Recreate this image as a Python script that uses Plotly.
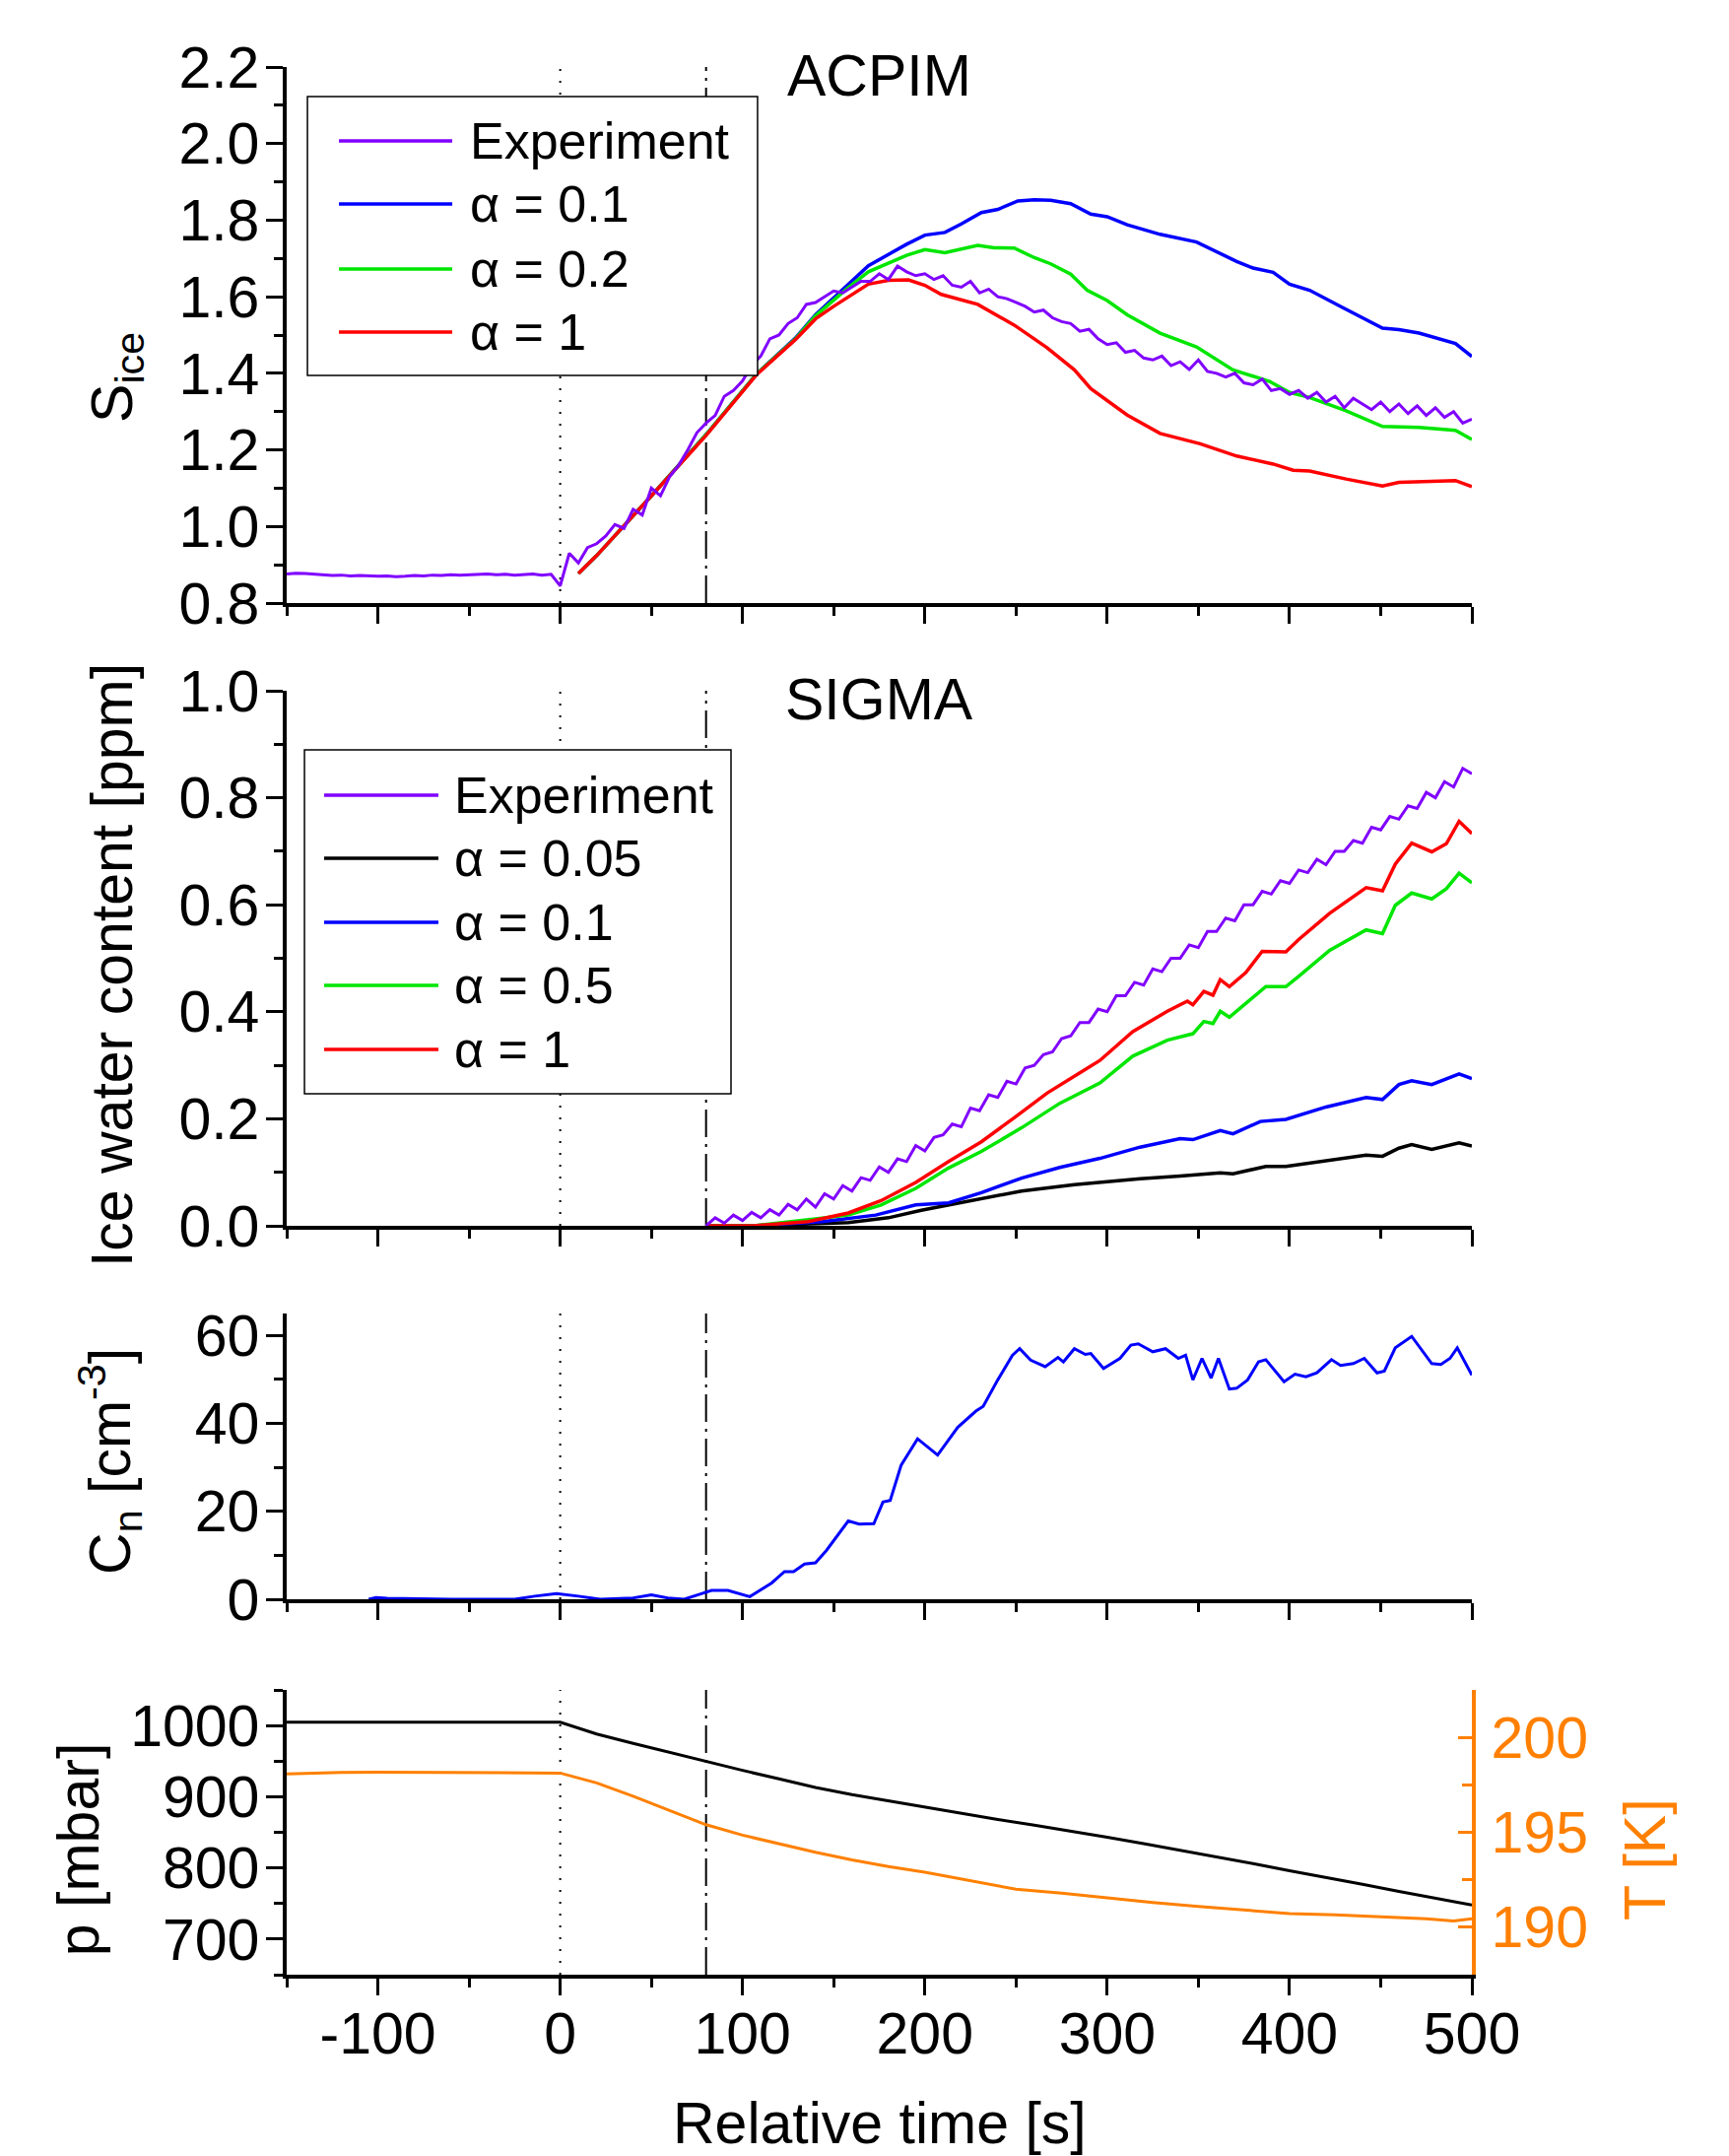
import plotly.graph_objects as go

FONT = "Liberation Sans, Arial, sans-serif"
PURPLE, BLUE, GREEN, RED, BLACK, ORANGE = "#8000FF", "#0000FF", "#00E600", "#FF0000", "#000000", "#FF8000"

# ---------------- Panel 1 : ACPIM, S_ice ----------------
exp1_t = list(range(-150, 505, 5))
exp1 = [0.876, 0.878, 0.877, 0.875, 0.874, 0.872, 0.873, 0.871, 0.872, 0.871,
        0.870, 0.871, 0.869, 0.870, 0.872, 0.871, 0.873, 0.872, 0.874, 0.873,
        0.874, 0.875, 0.876, 0.874, 0.875, 0.873, 0.874, 0.876, 0.873, 0.875, 0.845,
        0.93, 0.905, 0.945, 0.955, 0.975, 1.005, 0.995, 1.045, 1.03, 1.10,
        1.08, 1.13, 1.16, 1.20, 1.245, 1.27, 1.29, 1.34, 1.355, 1.38,
        1.42, 1.445, 1.49, 1.50, 1.53, 1.545, 1.58, 1.585, 1.60, 1.615,
        1.61, 1.625, 1.64, 1.64, 1.66, 1.645, 1.68, 1.665, 1.655, 1.66,
        1.645, 1.655, 1.63, 1.625, 1.64, 1.61, 1.62, 1.60, 1.595, 1.585,
        1.575, 1.56, 1.565, 1.545, 1.535, 1.53, 1.51, 1.515, 1.49, 1.475,
        1.48, 1.455, 1.46, 1.44, 1.435, 1.445, 1.42, 1.43, 1.41, 1.435,
        1.405, 1.40, 1.39, 1.40, 1.375, 1.37, 1.385, 1.355, 1.36, 1.345,
        1.355, 1.335, 1.35, 1.325, 1.34, 1.31, 1.335, 1.32, 1.305, 1.325,
        1.30, 1.32, 1.295, 1.315, 1.29, 1.31, 1.285, 1.30, 1.27, 1.28]

a01_t = [10, 20, 50, 80, 108, 129, 140, 157, 169, 190, 200, 211, 220, 231, 240, 251, 260, 269,
         280, 291, 300, 311, 329, 349, 371, 380, 391, 400, 411, 429, 440, 451, 460, 471, 491, 500]
a01 = [0.877, 0.924, 1.08, 1.24, 1.40, 1.492, 1.553, 1.627, 1.681, 1.737, 1.761, 1.768, 1.790,
       1.820, 1.828, 1.850, 1.853, 1.852, 1.843, 1.816, 1.809, 1.788, 1.763, 1.743, 1.692, 1.675,
       1.664, 1.633, 1.617, 1.572, 1.545, 1.518, 1.514, 1.505, 1.478, 1.444]

a02_t = [10, 20, 50, 80, 108, 129, 140, 157, 169, 190, 200, 211, 229, 238, 249, 260, 269, 280,
         289, 300, 311, 329, 349, 369, 389, 400, 411, 431, 451, 460, 471, 491, 500]
a02 = [0.877, 0.924, 1.08, 1.24, 1.40, 1.490, 1.550, 1.620, 1.665, 1.708, 1.723, 1.715, 1.734,
       1.728, 1.727, 1.702, 1.686, 1.659, 1.617, 1.590, 1.553, 1.505, 1.469, 1.409, 1.379, 1.350,
       1.337, 1.302, 1.261, 1.261, 1.259, 1.251, 1.227]

a1_t = [10, 20, 50, 80, 108, 129, 140, 150, 169, 180, 191, 200, 209, 229, 249, 267, 282, 291,
        311, 329, 351, 371, 391, 402, 411, 431, 451, 460, 491, 500]
a1 = [0.877, 0.924, 1.08, 1.238, 1.398, 1.488, 1.542, 1.575, 1.633, 1.643, 1.644, 1.630, 1.606,
      1.580, 1.526, 1.467, 1.409, 1.360, 1.291, 1.243, 1.216, 1.184, 1.163, 1.147, 1.145, 1.124,
      1.106, 1.115, 1.120, 1.104]

# ---------------- Panel 2 : SIGMA, ice water content ----------------
exp2_t = list(range(80, 505, 5))
exp2 = [0.0, 0.015, 0.005, 0.02, 0.01, 0.025, 0.015, 0.03, 0.02, 0.04,
        0.03, 0.05, 0.035, 0.06, 0.05, 0.075, 0.065, 0.09, 0.085, 0.11,
        0.10, 0.125, 0.12, 0.15, 0.14, 0.165, 0.17, 0.19, 0.185, 0.22,
        0.215, 0.245, 0.24, 0.27, 0.265, 0.295, 0.30, 0.32, 0.325, 0.35,
        0.355, 0.38, 0.38, 0.405, 0.40, 0.43, 0.43, 0.455, 0.45, 0.48,
        0.475, 0.50, 0.50, 0.525, 0.52, 0.55, 0.55, 0.575, 0.57, 0.60,
        0.60, 0.625, 0.62, 0.645, 0.64, 0.665, 0.66, 0.685, 0.675, 0.70,
        0.70, 0.72, 0.715, 0.745, 0.74, 0.765, 0.76, 0.785, 0.78, 0.81,
        0.80, 0.83, 0.82, 0.855, 0.845]

s005_t = [80, 106, 158, 180, 198, 224, 253, 282, 318, 340, 362, 369, 387, 398, 420, 442, 451,
          460, 467, 478, 493, 500]
s005 = [0.0, 0.0, 0.006, 0.015, 0.029, 0.046, 0.065, 0.077, 0.088, 0.093, 0.099, 0.097, 0.111,
        0.111, 0.122, 0.132, 0.130, 0.145, 0.152, 0.143, 0.155, 0.149]

s01_t = [80, 106, 144, 173, 195, 213, 231, 253, 274, 296, 318, 340, 347, 362, 369, 384, 398,
         420, 442, 451, 460, 467, 478, 493, 500]
s01 = [0.0, 0.0, 0.008, 0.020, 0.039, 0.043, 0.062, 0.089, 0.109, 0.126, 0.147, 0.163, 0.161,
       0.178, 0.172, 0.195, 0.199, 0.222, 0.240, 0.236, 0.264, 0.271, 0.264, 0.284, 0.275]

s05_t = [80, 106, 158, 176, 195, 213, 231, 253, 274, 296, 314, 333, 347, 353, 358, 362, 367,
         376, 387, 398, 405, 422, 442, 451, 458, 467, 478, 486, 493, 500]
s05 = [0.0, 0.0, 0.020, 0.039, 0.070, 0.108, 0.139, 0.183, 0.229, 0.267, 0.317, 0.347, 0.359,
       0.382, 0.378, 0.401, 0.390, 0.416, 0.447, 0.447, 0.466, 0.515, 0.553, 0.546, 0.599, 0.622,
       0.611, 0.630, 0.659, 0.641]

s1_t = [80, 106, 136, 158, 176, 195, 213, 231, 249, 267, 285, 296, 314, 333, 344, 347, 353, 358,
        362, 367, 376, 385, 398, 405, 422, 442, 451, 458, 467, 478, 486, 493, 500]
s1 = [0.0, 0.0, 0.008, 0.024, 0.047, 0.081, 0.120, 0.157, 0.202, 0.248, 0.286, 0.309, 0.363,
      0.401, 0.420, 0.413, 0.438, 0.431, 0.460, 0.447, 0.473, 0.513, 0.512, 0.535, 0.584, 0.632,
      0.626, 0.676, 0.715, 0.699, 0.714, 0.756, 0.733]

# ---------------- Panel 3 : C_n ----------------
cn_t = [-105, -101, -95, -83, -60, -47, -25, -14, -2, 10, 22, 40, 50, 59, 68, 77, 83, 92, 104, 116,
        123, 128, 134, 140, 146, 158, 164, 172, 177, 181, 187, 196, 207, 218, 228, 232, 240, 248,
        252, 258, 266, 273, 276, 282, 288, 291, 298, 307, 313, 317, 325, 332, 339, 343, 347, 352,
        357, 361, 367, 371, 377, 383, 387, 397, 403, 409, 415, 423, 428, 435, 441, 448, 452, 458,
        467, 478, 483, 488, 492, 500]
cn = [0.0, 0.4, 0.2, 0.1, 0.0, 0.0, 0.0, 0.7, 1.3, 0.7, 0.0, 0.3, 1.0, 0.3, 0.0, 1.2, 2.0, 2.0,
      0.6, 3.7, 6.3, 6.3, 8.0, 8.3, 11.1, 17.8, 17.1, 17.2, 22.1, 22.5, 30.5, 36.5, 32.8, 39.1,
      42.8, 43.9, 49.9, 55.5, 57.0, 54.4, 52.9, 55.0, 54.0, 57.0, 55.7, 55.9, 52.5, 54.8, 57.8,
      58.1, 56.3, 57.0, 54.8, 55.5, 49.9, 54.8, 50.3, 54.8, 47.8, 48.0, 49.9, 54.0, 54.5, 49.5,
      51.2, 50.6, 51.5, 54.5, 53.2, 53.6, 54.8, 51.5, 51.9, 57.2, 59.8, 53.6, 53.4, 54.8, 57.2, 51.0]

# ---------------- Panel 4 : p and T ----------------
p_t = [-150, -100, -50, 0, 20, 40, 60, 80, 100, 120, 140, 160, 180, 200, 220, 240, 260, 280, 300,
       320, 340, 360, 380, 400, 420, 440, 460, 480, 500]
p = [1004.5, 1005, 1004.5, 1004.5, 988, 975, 962, 949.5, 937, 925, 913, 903, 894, 885.5, 877,
     868, 860, 852, 843, 834, 825, 815, 806, 796, 787, 777, 767, 758, 748]

T_t = [-150, -140, -120, -100, -80, -60, -40, -20, 0, 20, 40, 60, 80, 100, 120, 140, 160, 180,
       200, 225, 250, 275, 300, 325, 350, 375, 400, 425, 450, 475, 490, 500]
T = [198.07, 198.1, 198.15, 198.17, 198.16, 198.17, 198.15, 198.16, 198.12, 197.6, 196.9, 196.15,
     195.4, 194.85, 194.4, 193.95, 193.55, 193.2, 192.9, 192.45, 192.0, 191.8, 191.55, 191.3,
     191.1, 190.9, 190.72, 190.65, 190.55, 190.45, 190.33, 190.45]

# markers of events
t_start = 0
t_nucl = 80

legend1_names = ["Experiment", "α = 0.1", "α = 0.2", "α = 1"]
legend1_colors = [PURPLE, BLUE, GREEN, RED]
legend2_names = ["Experiment", "α = 0.05", "α = 0.1", "α = 0.5", "α = 1"]
legend2_colors = [PURPLE, BLACK, BLUE, GREEN, RED]

xticks_vals = [-100, 0, 100, 200, 300, 400, 500]
xticks_text = ["-100", "0", "100", "200", "300", "400", "500"]
xminor_vals = [-150, -50, 50, 150, 250, 350, 450]

# ---------------- Figure ----------------
W, H = 1755, 2188
ML, MR, MT, MB = 291, 261, 68, 184
PW, PH = W - ML - MR, H - MT - MB


def ydom(top_px, bot_px):
    return [(H - MB - bot_px) / PH, (H - MB - top_px) / PH]


def xpaper(px):
    return (px - ML) / PW


fig = go.Figure()


def add(x, y, color, width, xa, ya):
    fig.add_trace(go.Scatter(x=x, y=y, mode="lines", line=dict(color=color, width=width),
                             xaxis=xa, yaxis=ya, showlegend=False, hoverinfo="skip"))


add(a01_t, a01, BLUE, 3.5, "x", "y")
add(a02_t, a02, GREEN, 3.5, "x", "y")
add(a1_t, a1, RED, 3.5, "x", "y")
add(exp1_t, exp1, PURPLE, 3, "x", "y")

add(s005_t, s005, BLACK, 3.5, "x2", "y2")
add(s01_t, s01, BLUE, 3.5, "x2", "y2")
add(s05_t, s05, GREEN, 3.5, "x2", "y2")
add(s1_t, s1, RED, 3.5, "x2", "y2")
add(exp2_t, exp2, PURPLE, 3, "x2", "y2")

add(cn_t, cn, BLUE, 3, "x3", "y3")

add(p_t, p, BLACK, 3, "x4", "y4")
add(T_t, T, ORANGE, 3, "x4", "y8")

TICK_SIZE = 59
tickfont = dict(family=FONT, size=TICK_SIZE, color="black")
XR = [-150, 500]
LW = 3.5


def xaxis_main(show_labels):
    return dict(range=XR, tickmode="array", tickvals=xticks_vals, ticktext=xticks_text,
                ticks="outside", ticklen=17, tickwidth=3, tickcolor="black", showline=True,
                linewidth=LW, linecolor="black", showgrid=False, zeroline=False,
                showticklabels=show_labels, tickfont=tickfont, ticklabelstandoff=-12,
                minor=dict(tickvals=xminor_vals, ticks="outside",
                           ticklen=9, tickwidth=3, tickcolor="black", showgrid=False))


def xaxis_top(base, anchor):
    return dict(overlaying=base, anchor=anchor, side="top", range=XR, tickmode="array",
                tickvals=xticks_vals, ticks="inside", ticklen=17, tickwidth=3, tickcolor="black",
                showline=True, linewidth=LW, linecolor="black", showgrid=False, zeroline=False,
                showticklabels=False,
                minor=dict(tickvals=xminor_vals, ticks="inside",
                           ticklen=9, tickwidth=3, tickcolor="black", showgrid=False))


def yaxis_main(dom, rng, dtick, mdtick, fmt, anchor):
    return dict(domain=dom, anchor=anchor, range=rng, tick0=0, dtick=dtick, ticks="outside",
                ticklen=17, tickwidth=3, tickcolor="black", showline=True, linewidth=LW,
                linecolor="black", showgrid=False, zeroline=False, tickfont=tickfont,
                tickformat=fmt, ticklabelstandoff=-5,
                minor=dict(tick0=0, dtick=mdtick, ticks="outside", ticklen=9, tickwidth=3,
                           tickcolor="black", showgrid=False))


def yaxis_right(base, anchor, rng, dtick, mdtick):
    return dict(overlaying=base, anchor=anchor, side="right", range=rng, tick0=0, dtick=dtick,
                ticks="inside", ticklen=14, tickwidth=3, tickcolor="black", showline=True,
                linewidth=LW, linecolor="black", showgrid=False, zeroline=False,
                showticklabels=False,
                minor=dict(tick0=0, dtick=mdtick, ticks="inside", ticklen=10, tickwidth=3,
                           tickcolor="black", showgrid=False))


layout = dict(
    width=W, height=H, margin=dict(l=ML, r=MR, t=MT, b=MB, autoexpand=False),
    paper_bgcolor="white", plot_bgcolor="white", showlegend=False,
    font=dict(family=FONT, color="black", size=56),
    xaxis=dict(anchor="y", **xaxis_main(False)),
    xaxis2=dict(anchor="y2", **xaxis_main(False)),
    xaxis3=dict(anchor="y3", **xaxis_main(False)),
    xaxis4=dict(anchor="y4", **xaxis_main(True)),
    xaxis5=xaxis_top("x", "y"),
    xaxis6=xaxis_top("x2", "y2"),
    xaxis7=xaxis_top("x3", "y3"),
    xaxis8=xaxis_top("x4", "y4"),
    yaxis=yaxis_main(ydom(68, 612), [0.8, 2.2], 0.2, 0.1, ".1f", "x"),
    yaxis2=yaxis_main(ydom(701, 1244), [0, 1.0], 0.2, 0.1, ".1f", "x2"),
    yaxis3=yaxis_main(ydom(1333, 1623), [0, 65], 20, 10, "d", "x3"),
    yaxis4=yaxis_main(ydom(1715, 2004), [650, 1050], 100, 50, "d", "x4"),
    yaxis5=yaxis_right("y", "x", [0.8, 2.2], 0.2, 0.1),
    yaxis6=yaxis_right("y2", "x2", [0, 1.0], 0.2, 0.1),
    yaxis7=yaxis_right("y3", "x3", [0, 65], 20, 10),
    yaxis8=dict(overlaying="y4", anchor="x4", side="right", range=[187.5, 202.5], tick0=0,
                dtick=5, ticks="inside", ticklen=14, tickwidth=3, tickcolor=ORANGE,
                showline=True, linewidth=LW, linecolor=ORANGE, showgrid=False, zeroline=False,
                tickfont=dict(family=FONT, size=TICK_SIZE, color=ORANGE), ticklabelstandoff=4,
                minor=dict(tick0=0, dtick=2.5, ticks="inside", ticklen=10, tickwidth=3,
                           tickcolor=ORANGE, showgrid=False)),
)
fig.update_layout(**layout)

shapes = []
annotations = []

# vertical event lines in every panel
for xa, ya in [("x", "y"), ("x2", "y2"), ("x3", "y3"), ("x4", "y4")]:
    shapes.append(dict(type="line", xref=xa, yref=f"{ya} domain", x0=t_start, x1=t_start,
                       y0=0, y1=1, layer="below", line=dict(color="black", width=2, dash="2px,10px")))
    shapes.append(dict(type="line", xref=xa, yref=f"{ya} domain", x0=t_nucl, x1=t_nucl,
                       y0=0, y1=1, layer="below",
                       line=dict(color="black", width=2, dash="28px,7px,3px,7px")))


def legend_box(xa, ya, box, ys, lx, tx, names, colors):
    shapes.append(dict(type="rect", xref=f"{xa} domain", yref=f"{ya} domain",
                       x0=box[0], x1=box[1], y0=box[2], y1=box[3], layer="above",
                       fillcolor="white", line=dict(color="black", width=1.5)))
    for yy, nm, col in zip(ys, names, colors):
        shapes.append(dict(type="line", xref=f"{xa} domain", yref=f"{ya} domain",
                           x0=lx[0], x1=lx[1], y0=yy, y1=yy, layer="above",
                           line=dict(color=col, width=3.5)))
        annotations.append(dict(xref=f"{xa} domain", yref=f"{ya} domain", x=tx, y=yy,
                                text=nm, showarrow=False, xanchor="left", yanchor="middle",
                                font=dict(family=FONT, size=52, color="black")))


legend_box("x", "y", [0.0175, 0.3973, 0.4246, 0.9449], [0.8621, 0.7445, 0.6232, 0.5055],
           [0.0441, 0.1397], 0.1530, legend1_names, legend1_colors)
legend_box("x2", "y2", [0.0150, 0.3749, 0.2468, 0.8895],
           [0.8048, 0.6869, 0.5672, 0.4494, 0.3297], [0.0316, 0.1280], 0.1397,
           legend2_names, legend2_colors)

# panel titles sitting on the top frame
for txt, xa, ya in [("ACPIM", "x", "y"), ("SIGMA", "x2", "y2")]:
    annotations.append(dict(xref=xa, yref=f"{ya} domain", x=175, y=1, text=txt, showarrow=False,
                            xanchor="center", yanchor="middle", yshift=-9, bgcolor="white",
                            borderpad=2, font=dict(family=FONT, size=59, color="black")))


# axis titles
def ytitle(text, px, ya, yfrac, color="black"):
    annotations.append(dict(xref="paper", yref=f"{ya} domain", x=xpaper(px), y=yfrac, text=text,
                            textangle=-90, showarrow=False, xanchor="center", yanchor="middle",
                            font=dict(family=FONT, size=59, color=color)))


ytitle("S<sub>ice</sub>", 118, "y", 0.421)
ytitle("Ice water content [ppm]", 114, "y2", 0.486)
ytitle("C<sub>n</sub> [cm<sup>-3</sup>]", 112, "y3", 0.483)
ytitle("p [mbar]", 80, "y4", 0.439)
ytitle("T [K]", 1670, "y4", 0.405, ORANGE)

annotations.append(dict(xref="paper", yref="paper", x=0.5, y=(H - MB - 2155) / PH,
                        text="Relative time [s]", showarrow=False, xanchor="center",
                        yanchor="middle", font=dict(family=FONT, size=59, color="black")))

fig.update_layout(shapes=shapes, annotations=annotations)
fig.write_html("out.html", config={"displayModeBar": False},
               post_script="document.body.style.margin='0';document.body.style.overflow='hidden';")
